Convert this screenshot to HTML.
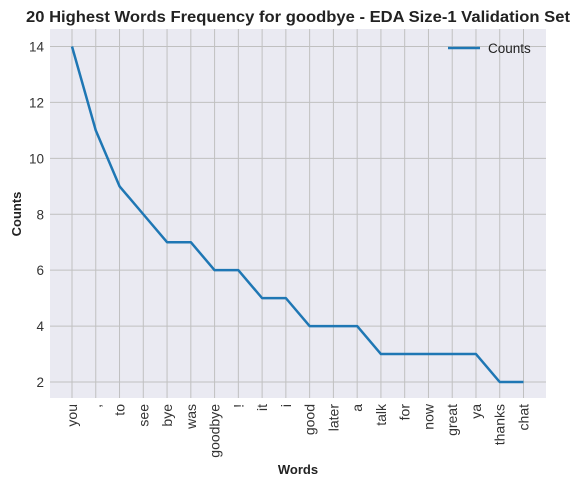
<!DOCTYPE html>
<html><head><meta charset="utf-8"><style>
body{margin:0;background:#fff;font-family:"Liberation Sans",sans-serif}
</style></head><body>
<svg width="580" height="487" font-family="Liberation Sans, sans-serif">
<text x="298" y="22" text-anchor="middle" font-weight="bold" font-size="15.5" textLength="544" lengthAdjust="spacingAndGlyphs" fill="#222">20 Highest Words Frequency for goodbye - EDA Size-1 Validation Set</text>
<rect x="50" y="29" width="496" height="369" fill="#eaeaf2"/>
<g id="grid"></g><g id="ticks"></g>
<path id="line" fill="none" stroke="#1f77b4" stroke-width="2.5" stroke-linejoin="round"/>
<g>
<line x1="448" y1="48" x2="480" y2="48" stroke="#1f77b4" stroke-width="2.5"/>
<text x="488" y="53" font-size="13.5" fill="#222">Counts</text>
</g>
<text x="298" y="474" text-anchor="middle" font-weight="bold" font-size="13" fill="#222">Words</text>
<text transform="translate(21,214) rotate(-90)" text-anchor="middle" font-weight="bold" font-size="13" fill="#222">Counts</text>
</svg>
<script>
const categories=["you",",","to","see","bye","was","goodbye","!","it","i","good","later","a","talk","for","now","great","ya","thanks","chat"];
const counts=[14,11,9,8,7,7,6,6,5,5,4,4,4,3,3,3,3,3,2,2];
const yTicks=[2,4,6,8,10,12,14];
const NS="http://www.w3.org/2000/svg";
function xS(i){return 72+i*(523.5-72)/(categories.length-1);}
function yS(v){return 382-(v-2)*(382-46.5)/12;}
const grid=document.getElementById('grid'),ticks=document.getElementById('ticks');
function mk(t,a,p){const e=document.createElementNS(NS,t);for(const k in a)e.setAttribute(k,a[k]);p.appendChild(e);return e;}
yTicks.forEach(v=>{
const l=mk('line',{x1:50,x2:546,y1:yS(v),y2:yS(v),stroke:'#c0c0c0','stroke-width':1},grid);


const t=mk('text',{x:44,y:yS(v)+5,'text-anchor':'end','font-size':13.5,fill:'#333'},ticks);
t.textContent=v;


});
categories.forEach((c,i)=>{
const l=mk('line',{x1:xS(i),x2:xS(i),y1:29,y2:398,stroke:'#c0c0c0','stroke-width':1},grid);


const t=mk('text',{transform:`translate(${xS(i)+5},404) rotate(-90)`,'text-anchor':'end','font-size':14,fill:'#333'},ticks);
t.textContent=c;


});
document.getElementById('line').setAttribute('d',counts.map((v,i)=>(i?'L':'M')+xS(i)+','+yS(v)).join(''));
</script>
</body></html>
